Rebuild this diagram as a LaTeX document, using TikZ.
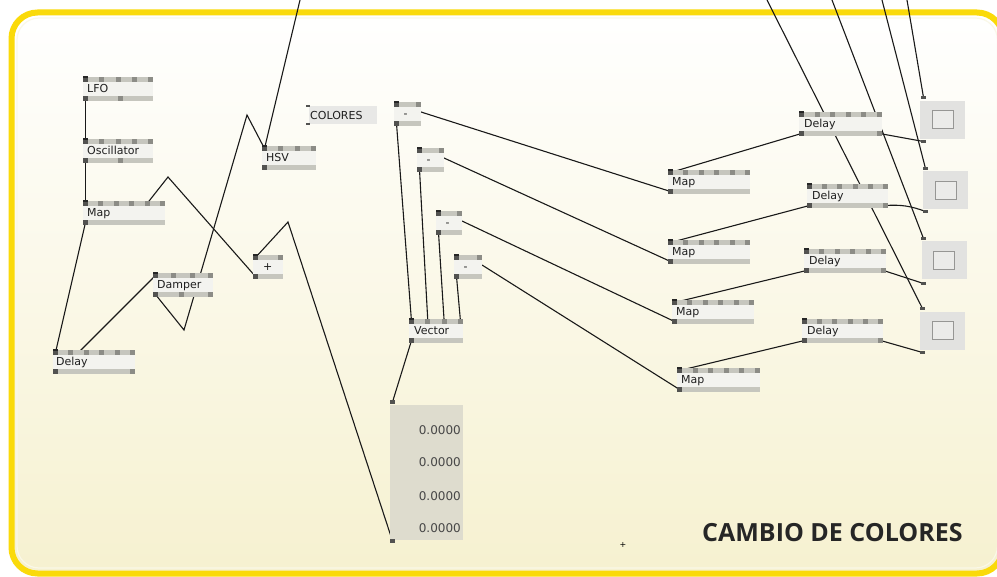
\documentclass[tikz,border=0pt]{standalone}
\usepackage{fontspec}
\setmainfont{DejaVu Sans}
\newfontfamily\titlefont{Open Sans}
\pgfdeclarelayer{bg}\pgfdeclarelayer{lines}
\pgfsetlayers{bg,lines,main}
\definecolor{frameY}{RGB}{250,218,10}
\definecolor{cream}{RGB}{246,241,208}
\definecolor{barc}{RGB}{198,198,190}
\definecolor{pinc}{RGB}{140,140,134}
\definecolor{pind}{RGB}{82,82,80}
\definecolor{nodebg}{RGB}{243,243,239}
\definecolor{floatbg}{RGB}{222,220,206}
\definecolor{sqbg}{RGB}{226,226,224}
\definecolor{sqin}{RGB}{150,150,148}
% name, x1, y1, x2, label, ntop, bottom offsets, label x offset
\newcommand{\vvnode}[8]{%
  \fill[nodebg] (#2,#3) rectangle (#4,#3+24);
  \fill[barc] (#2,#3) rectangle (#4,#3+5);
  \fill[barc] (#2,#3+19) rectangle (#4,#3+24);
  \foreach \i in {1,...,#6}{%
    \pgfmathsetmacro\px{#2+(\i-1)*(#4-#2-5)/max(#6-1,1)}%
    \fill[pinc] (\px,#3) rectangle ++(5,5);
    \coordinate (#1-t\i) at (\px+2.5,#3+2.5);
  }%
  \foreach \o in {#7}{\fill[pinc] (#2+\o,#3+19) rectangle ++(5,5);}%
  \fill[pind] (#2,#3) rectangle ++(5,5);
  \fill[black!85] (#2,#3-0.8) rectangle ++(5,1.4);
  \fill[pind] (#2,#3+19) rectangle ++(5,5);
  \coordinate (#1-tl) at (#2+2.5,#3+2.5);
  \coordinate (#1-bl) at (#2+2.5,#3+21.5);
  \coordinate (#1-br) at (#4-2.5,#3+21.5);
  \coordinate (#1-r) at (#4,#3+10);
  \node[lbl,anchor=base west] (#1) at (#2+#8,#3+16) {#5};
}
\begin{document}
\begin{tikzpicture}[x=1pt,y=-1pt,
  lbl/.style={inner sep=0pt, font=\fontsize{11}{13}\selectfont, text=black!88},
  wire/.style={draw=black!90, line width=1.1pt},
  sqbox/.style={fill=sqbg, minimum width=45pt, minimum height=38pt, inner sep=0pt},
  sqinner/.style={draw=sqin, fill=sqbg!70!white, line width=0.8pt, minimum width=21pt, minimum height=18pt, inner sep=0pt},
  valtxt/.style={inner sep=0pt, font=\fontsize{12}{14}\selectfont, text=black!72, anchor=base east}]
\useasboundingbox (0,0) rectangle (997,577);

\begin{pgfonlayer}{bg}
\fill[white] (0,0) rectangle (997,577);
\shade[top color=white, bottom color=cream, rounded corners=26] (11.5,12.5) rectangle (1003,573.5);
\draw[white!50!cream, line width=1.2pt, rounded corners=22] (17,18) rectangle (997.5,568);
\draw[frameY, line width=6pt, rounded corners=26] (11.5,12.5) rectangle (1003,573.5);
\end{pgfonlayer}

% left chain
\vvnode{lfo}{83}{77}{153}{LFO}{5}{35}{4}
\vvnode{osc}{83}{139}{153}{Oscillator}{5}{35}{4}
\vvnode{mapL}{83}{201}{165}{Map}{6}{0}{4}
\vvnode{delL}{53}{350}{135}{Delay}{6}{77}{3}
\vvnode{damp}{153}{273}{213}{Damper}{4}{26,55}{4}
\vvnode{plus}{253}{255}{283}{+}{2}{0}{10}
\vvnode{hsv}{262}{146}{316}{HSV}{4}{0}{4}

% COLORES string box
\node[fill=sqbg!80!white, minimum width=68pt, minimum height=18pt, inner sep=0pt] (colbox) at (343,115) {};
\node[lbl,anchor=base west] (colores) at (310,119.5) {COLORES};
\fill[pind] (306,105) rectangle ++(4,2);
\fill[pind] (306,123) rectangle ++(4,2);

% minus nodes
\vvnode{m1}{394}{102}{421}{-}{2}{0}{9.5}
\vvnode{m2}{417}{148}{444}{-}{2}{0}{9.5}
\vvnode{m3}{436}{211}{462}{-}{2}{0}{9.5}
\vvnode{m4}{454}{255}{482}{-}{2}{0}{9.5}
\vvnode{vec}{409}{319}{463}{Vector}{4}{0}{5}

% value display
\node[fill=floatbg, minimum width=73pt, minimum height=135pt, inner sep=0pt] (float) at (426.5,472.5) {};
\node[valtxt] (v1) at (461,434.5) {0.0000};
\node[valtxt] (v2) at (461,466.5) {0.0000};
\node[valtxt] (v3) at (461,500.5) {0.0000};
\node[valtxt] (v4) at (461,532.5) {0.0000};
\fill[pind] (390,400) rectangle ++(5,4);
\fill[pind] (390,539) rectangle ++(5,4);
\coordinate (float-t) at (392.5,402);
\coordinate (float-b) at (392.5,541);

% right maps and delays
\vvnode{map1}{668}{170}{750}{Map}{6}{0}{4}
\vvnode{map2}{668}{240}{750}{Map}{6}{0}{4}
\vvnode{map3}{672}{300}{754}{Map}{6}{0}{4}
\vvnode{map4}{677}{368}{760}{Map}{6}{0}{4}
\vvnode{d1}{799}{112}{882}{Delay}{6}{78}{5}
\vvnode{d2}{807}{184}{888}{Delay}{6}{76}{5}
\vvnode{d3}{804}{249}{886}{Delay}{6}{77}{5}
\vvnode{d4}{802}{319}{883}{Delay}{6}{76}{5}

% colour squares
\node[sqbox] (sq1) at (942.5,120) {};
\node[sqinner] (sq1i) at (942.5,119) {};
\node[sqbox] (sq2) at (945,190) {};
\node[sqinner] (sq2i) at (945.5,190) {};
\node[sqbox] (sq3) at (944,260) {};
\node[sqinner] (sq3i) at (943.5,260) {};
\node[sqbox] (sq4) at (942.5,331) {};
\node[sqinner] (sq4i) at (942.5,330) {};
\foreach \n/\xx/\ta/\tb in {sq1/921/96/140, sq2/923/167/210, sq3/921/237/282, sq4/920/307/351}{%
  \fill[pind] (\xx,\ta) rectangle ++(5,3);
  \fill[pind] (\xx,\tb) rectangle ++(5,3);
  \coordinate (\n-t) at (\xx+2.5,\ta+1.5);
  \coordinate (\n-b) at (\xx+2.5,\tb+1.5);
}

% title and marker
\node[anchor=base west, inner sep=0pt, font=\titlefont\bfseries\fontsize{25}{30}\selectfont, text=black!85] (title) at (702,541.5) {CAMBIO DE COLORES};
\node[inner sep=0pt, font=\fontsize{8}{9}\selectfont] (cursor) at (623,545) {+};

% free ends and bend points
\coordinate (topA) at (300,0);
\coordinate (topB) at (767,0);
\coordinate (topC) at (832,0);
\coordinate (topD) at (882,0);
\coordinate (topE) at (907,0);
\coordinate (bendMap) at (168,177);
\coordinate (bendPlus) at (288,222);
\coordinate (bendDL) at (184,330);
\coordinate (bendDH) at (247,115);
\coordinate (delLin) at (79,352);

\begin{pgfonlayer}{lines}
\draw[wire] (lfo-bl) -- (osc-tl);
\draw[wire] (osc-bl) -- (mapL-tl);
\draw[wire] (mapL-bl) -- (delL-tl);
\draw[wire] (damp-tl) -- (delLin);
\draw[wire] (damp-bl) -- (bendDL) -- (bendDH) -- (hsv-tl);
\draw[wire] (mapL-t5) -- (bendMap) -- (plus-bl);
\draw[wire] (plus-tl) -- (bendPlus) -- (float-b);
\draw[wire] (topA) -- (hsv-tl);
\draw[wire] (m1-bl) -- (vec-t1);
\draw[wire] (m2-bl) -- (vec-t2);
\draw[wire] (m3-bl) -- (vec-t3);
\draw[wire] (m4-bl) -- (vec-t4);
\draw[wire] (vec-bl) -- (float-t);
\draw[wire] (m1-r) -- (map1-bl);
\draw[wire] (m2-r) -- (map2-bl);
\draw[wire] (m3-r) -- (map3-bl);
\draw[wire] (m4-r) -- (map4-bl);
\draw[wire] (map1-tl) -- (d1-bl);
\draw[wire] (map2-tl) -- (d2-bl);
\draw[wire] (map3-tl) -- (d3-bl);
\draw[wire] (map4-tl) -- (d4-bl);
\draw[wire] (d1-br) -- (sq1-b);
\draw[wire] (d2-br) to[bend left=12] (sq2-b);
\draw[wire] (d3-br) -- (sq3-b);
\draw[wire] (d4-br) -- (sq4-b);
\draw[wire] (topB) -- (sq4-t);
\draw[wire] (topC) -- (sq3-t);
\draw[wire] (topD) -- (sq2-t);
\draw[wire] (topE) -- (sq1-t);
\end{pgfonlayer}
\end{tikzpicture}
\end{document}
